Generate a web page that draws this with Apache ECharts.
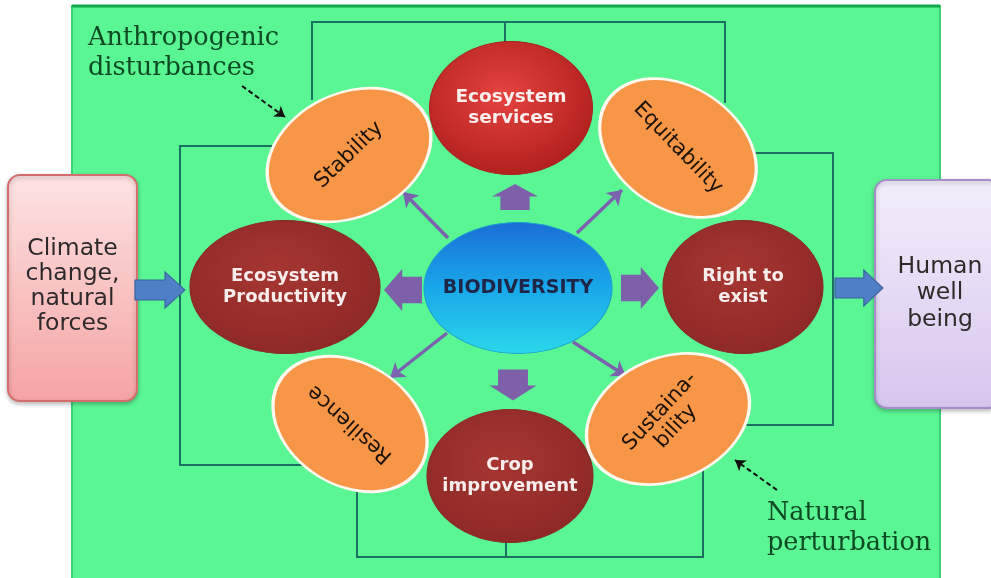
<!DOCTYPE html>
<html><head><meta charset="utf-8">
<script src="https://cdn.jsdelivr.net/npm/echarts@6/dist/echarts.min.js"></script>
<style>html,body{margin:0;padding:0;background:#fff}#c{width:991px;height:578px}</style>
</head><body><div id="c"></div>
<script>
// ---------- DATA (content) ----------
const nodeNames = ['Ecosystem\nservices','Stability','Equitability','Ecosystem\nProductivity','BIODIVERSITY','Right to\nexist','Resilience','Crop\nimprovement','Sustaina-\nbility'];
const nodeKinds = ['red','orange','orange','maroon','hub','maroon','orange','maroon','orange'];
const boxNames = ['Climate\nchange,\nnatural\nforces','Human\nwell\nbeing'];
const annotationTexts = ['Anthropogenic\ndisturbances','Natural\nperturbation'];
// hub -> node links drawn as block arrows (target index) and thin arrows (target index)
const blockArrowTargets = [0,3,5,7];
const thinArrowTargets = [1,2,6,8];

// ---------- LAYOUT (positions, sizes, rotations) ----------
const NODE_POS  = [[511,108],[349,155],[678,148],[285,287],[518,288],[743,287],[350,424],[510,476],[668,419]];
const NODE_SIZE = [[163,133],[172,123],[170,122],[190,133],[188,131],[160,133],[165,122],[166,133],[170,122]];
const NODE_TILT = [0,26,-34,0,0,0,-32,0,24];
const TEXT_TILT = [0,44,-46,0,0,0,138,0,47];
const BOX_RECT = [[8,175,137,401],[875,180,1000,408]];
const FRAME = [72,6,940,595];
const BLOCK_POS = {0:[515,197,90,[26,46]],3:[403,290,180,[38,42]],5:[640,288,0,[38,42]],7:[513,385,-90,[31,47]]};
const THIN_COORDS = {1:[[448,238],[403,192]],2:[[577,233],[622,190]],6:[[447,333],[390,378]],8:[[573,342],[626,376]]};
const BLUE_ARROWS = [[160,290,[50,36]],[859,288,[48,36]]];
const BRACKETS = [
  [[312,100],[312,22],[725,22],[725,103]],
  [[505,22],[505,44]],
  [[272,146],[180,146],[180,465],[302,465]],
  [[755,153],[833,153],[833,425],[746,425]],
  [[357,488],[357,557],[703,557],[703,470]],
  [[506,542],[506,557]]
];
const DASHED = [[[242,86],[285,117]],[[777,490],[735,460]]];
const ANNOT_POS = [[88,23],[767,498]];

// ---------- STYLES ----------
const radial = (c0,c1) => ({type:'radial',x:0.45,y:0.4,r:0.6,colorStops:[{offset:0,color:c0},{offset:1,color:c1}]});
const KIND = {
  orange:{fill:'#f79646',border:'#fff8ee',bw:3,text:'#1b1208',weight:'normal',size:21,lh:22},
  maroon:{fill:radial('#a63632','#8e2927'),border:'#8a2826',bw:1,text:'#f7eded',weight:'bold',size:18,lh:21},
  red:{fill:radial('#e5433e','#b2211f'),border:'#a82020',bw:1,text:'#fbeeee',weight:'bold',size:18.5,lh:21},
  hub:{fill:{type:'linear',x:0,y:0,x2:0,y2:1,colorStops:[{offset:0,color:'#1b6ed6'},{offset:0.5,color:'#19a7ea'},{offset:1,color:'#2ad8ea'}]},border:'#1aa0d0',bw:1,text:'#1e2648',weight:'bold',size:19,lh:22}
};
const FONT = '"DejaVu Sans", Verdana, sans-serif';
const PURPLE = '#7b62ae';
const arrowPath = 'path://M0,8 L13,8 L13,0 L25,22 L13,44 L13,36 L0,36 Z';
const bluePath = 'path://M0,8 L30,8 L30,0 L50,18 L30,36 L30,28 L0,28 Z';

const nodeData = nodeNames.map((n,i)=>{
  const k = KIND[nodeKinds[i]];
  return {
    name:n, value:NODE_POS[i], symbolSize:NODE_SIZE[i], symbolRotate:NODE_TILT[i],
    itemStyle:{color:k.fill,borderColor:k.border,borderWidth:k.bw,opacity:1},
    label:{show:true,position:'inside',formatter:n,rotate:TEXT_TILT[i],color:k.text,fontWeight:k.weight,fontSize:k.size,fontFamily:FONT,lineHeight:k.lh}
  };
});

const blockData = blockArrowTargets.map(t=>{
  const b = BLOCK_POS[t];
  return {value:[b[0],b[1]],symbolRotate:b[2],symbolSize:b[3]};
});
const blueData = BLUE_ARROWS.map(b=>({value:[b[0],b[1]],symbolSize:b[2]}));

const chart = echarts.init(document.getElementById('c'));
chart.setOption({
  animation:false,
  backgroundColor:'#ffffff',
  grid:{left:0,right:0,top:0,bottom:0},
  xAxis:{type:'value',min:0,max:991,show:false},
  yAxis:{type:'value',min:0,max:578,inverse:true,show:false},
  series:[
    {type:'custom',coordinateSystem:'cartesian2d',z:0,silent:true,data:[[FRAME[0],FRAME[1]]],
     renderItem:(p,api)=>{
       const a=api.coord([FRAME[0],FRAME[1]]), b=api.coord([FRAME[2],FRAME[3]]);
       return {type:'group',children:[
         {type:'rect',shape:{x:a[0],y:a[1],width:b[0]-a[0],height:b[1]-a[1]},style:{fill:'#5bf694',stroke:'#3cd077',lineWidth:2}},
         {type:'line',shape:{x1:a[0],y1:a[1],x2:b[0],y2:a[1]},style:{stroke:'#10a64a',lineWidth:3}}
       ]};
     }},
    {type:'lines',coordinateSystem:'cartesian2d',polyline:true,z:1,silent:true,symbol:'none',
     lineStyle:{color:'#1b6f63',width:2,opacity:1},
     data:BRACKETS.map(c=>({coords:c}))},
    {type:'custom',coordinateSystem:'cartesian2d',z:2,silent:true,
     data:BOX_RECT.map(r=>[r[0],r[1]]),
     renderItem:(p,api)=>{
       const r=BOX_RECT[p.dataIndex];
       const a=api.coord([r[0],r[1]]), b=api.coord([r[2],r[3]]);
       const isLeft=p.dataIndex===0;
       const fill={type:'linear',x:0,y:0,x2:0,y2:1,colorStops:isLeft?
         [{offset:0,color:'#fde3e3'},{offset:1,color:'#f5a3a3'}]:
         [{offset:0,color:'#f4eefb'},{offset:1,color:'#d6c6ee'}]};
       const cx=isLeft?(a[0]+b[0])/2:api.coord([940,0])[0];
       return {type:'group',children:[
         {type:'rect',shape:{x:a[0],y:a[1],width:b[0]-a[0],height:b[1]-a[1],r:12},
          style:{fill:fill,stroke:isLeft?'#d46e6e':'#a48dc9',lineWidth:2,shadowBlur:4,shadowColor:'rgba(0,0,0,0.25)',shadowOffsetY:2}},
         {type:'text',style:{text:boxNames[p.dataIndex],x:cx,y:(a[1]+b[1])/2+(isLeft?-2:-1),align:'center',verticalAlign:'middle',
          fontSize:23.5,fontFamily:FONT,fill:'#2e2a2a',lineHeight:isLeft?25:26.5}}
       ]};
     }},
    {type:'scatter',z:3,silent:true,symbol:bluePath,
     itemStyle:{color:'#4f7fc4',borderColor:'#3a62a0',borderWidth:1,opacity:1},
     data:blueData},
    {type:'lines',coordinateSystem:'cartesian2d',z:3,silent:true,symbol:['none','arrow'],symbolSize:14,
     lineStyle:{color:PURPLE,width:3.5,opacity:1},
     data:thinArrowTargets.map(t=>({coords:THIN_COORDS[t]}))},
    {type:'scatter',z:4,silent:true,data:nodeData},
    {type:'scatter',z:5,silent:true,symbol:arrowPath,
     itemStyle:{color:'#7e60aa',opacity:1},
     data:blockData},
    {type:'lines',coordinateSystem:'cartesian2d',z:5,silent:true,symbol:['none','arrow'],symbolSize:10,
     lineStyle:{color:'#111111',width:2,type:[5,3],opacity:1},
     data:DASHED.map(c=>({coords:c}))},
    {type:'custom',coordinateSystem:'cartesian2d',z:6,silent:true,
     data:ANNOT_POS.map(p=>[p[0],p[1]]),
     renderItem:(p,api)=>{
       const a=api.coord(ANNOT_POS[p.dataIndex]);
       return {type:'text',style:{text:annotationTexts[p.dataIndex],x:a[0],y:a[1],align:'left',verticalAlign:'top',
         fontSize:25.5,fontFamily:'"DejaVu Serif", serif',fill:'#0d4a22',lineHeight:30}};
     }}
  ]
});
</script></body></html>
